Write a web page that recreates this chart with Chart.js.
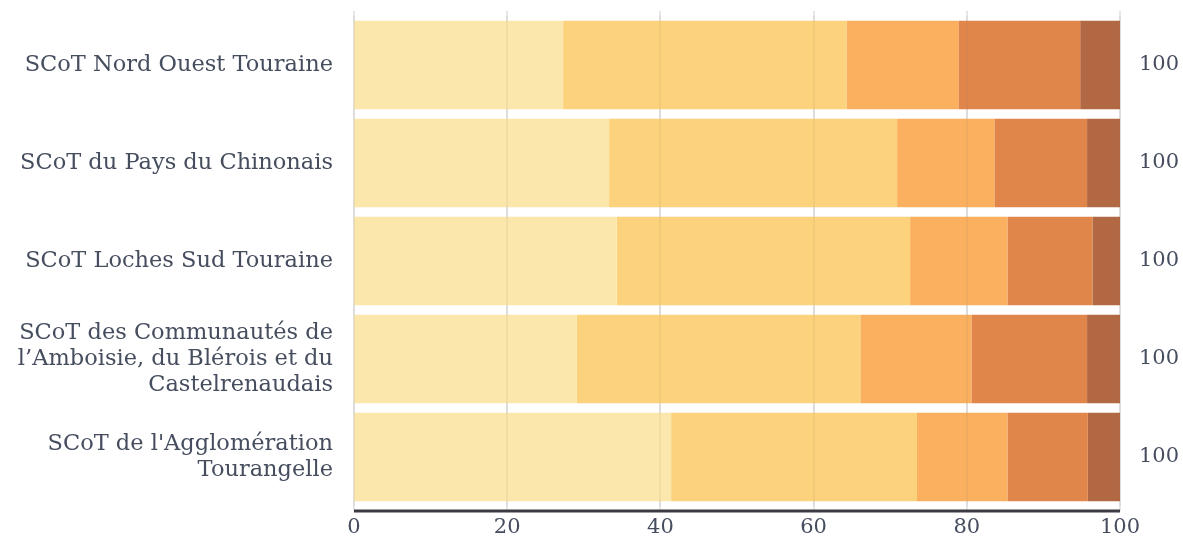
<!DOCTYPE html>
<html>
<head>
<meta charset="utf-8">
<script src="https://cdn.jsdelivr.net/npm/chart.js@4"></script>
<style>
  html, body { margin: 0; padding: 0; background: #ffffff; }
  #wrap { width: 1183px; height: 538px; position: relative; }
</style>
</head>
<body>
<div id="wrap"><canvas id="c" width="1183" height="538"></canvas></div>
<script>
const categories = [
  "SCoT Nord Ouest Touraine",
  "SCoT du Pays du Chinonais",
  "SCoT Loches Sud Touraine",
  ["SCoT des Communautés de", "l’Amboisie, du Blérois et du", "Castelrenaudais"],
  ["SCoT de l'Agglomération", "Tourangelle"]
];
const part1 = [27.3, 33.3, 34.3, 29.1, 41.4];
const part2 = [37.0, 37.6, 38.3, 37.0, 32.1];
const part3 = [14.6, 12.7, 12.7, 14.5, 11.8];
const part4 = [15.9, 12.1, 11.1, 15.1, 10.5];
const part5 = [5.2, 4.3, 3.6, 4.3, 4.2];
const xTicks = [0, 20, 40, 60, 80, 100];

const colors = ["#fbe7ab", "#fcd27d", "#fbb05f", "#e1864b", "#b26843"];
const series = [part1, part2, part3, part4, part5];

const FONT = "'DejaVu Serif', 'Liberation Serif', serif";
const TEXT = "#454d5e";

const gridPlugin = {
  id: "extGrid",
  beforeDatasetsDraw(chart) {
    const { ctx, chartArea, scales } = chart;
    ctx.save();
    ctx.strokeStyle = "#e6e6e6";
    ctx.lineWidth = 2;
    xTicks.forEach(v => {
      const x = Math.round(scales.x.getPixelForValue(v));
      ctx.beginPath();
      ctx.moveTo(x, chartArea.top - 5);
      ctx.lineTo(x, chartArea.bottom + 5);
      ctx.stroke();
    });
    ctx.restore();
  },
  afterDatasetsDraw(chart) {
    const { ctx, chartArea, scales } = chart;
    ctx.save();
    ctx.strokeStyle = "rgba(120,120,120,0.08)";
    ctx.lineWidth = 2;
    xTicks.forEach(v => {
      const x = Math.round(scales.x.getPixelForValue(v));
      ctx.beginPath();
      ctx.moveTo(x, chartArea.top);
      ctx.lineTo(x, chartArea.bottom);
      ctx.stroke();
    });
    // axis line
    ctx.strokeStyle = "#3c3d44";
    ctx.lineWidth = 3;
    ctx.beginPath();
    ctx.moveTo(scales.x.getPixelForValue(0), chartArea.bottom + 5);
    ctx.lineTo(scales.x.getPixelForValue(100), chartArea.bottom + 5);
    ctx.stroke();
    // totals
    ctx.fillStyle = TEXT;
    ctx.font = "21px " + FONT;
    ctx.textAlign = "left";
    ctx.textBaseline = "middle";
    const meta = chart.getDatasetMeta(chart.data.datasets.length - 1);
    categories.forEach((c, i) => {
      const total = Math.round(series.reduce((s, arr) => s + arr[i], 0));
      const y = meta.data[i].y;
      ctx.fillText(String(total), chartArea.right + 19, y);
    });
    ctx.restore();
  }
};

new Chart(document.getElementById("c"), {
  type: "bar",
  data: {
    labels: categories,
    datasets: series.map((arr, k) => ({
      label: "part" + (k + 1),
      data: arr,
      backgroundColor: colors[k],
      borderWidth: 0,
      barPercentage: 0.903,
      categoryPercentage: 1.0
    }))
  },
  options: {
    indexAxis: "y",
    responsive: false,
    animation: false,
    maintainAspectRatio: false,
    layout: { padding: { top: 16, right: 63, left: 0, bottom: 0 } },
    plugins: { legend: { display: false }, tooltip: { enabled: false } },
    scales: {
      x: {
        stacked: true,
        min: 0,
        max: 100,
        afterBuildTicks(scale) { scale.ticks = xTicks.map(v => ({ value: v })); },
        afterFit(scale) { scale.height = 32; scale.paddingLeft = 0; scale.paddingRight = 0; },
        grid: { display: false, drawTicks: false },
        border: { display: false },
        ticks: { color: TEXT, font: { family: FONT, size: 21 }, padding: 9, maxRotation: 0 }
      },
      y: {
        stacked: true,
        afterFit(scale) { scale.width = 354; scale.paddingTop = 0; scale.paddingBottom = 0; },
        grid: { display: false, drawTicks: false },
        border: { display: false },
        ticks: { color: TEXT, font: { family: FONT, size: 22.5, lineHeight: 1.15 }, padding: 21 }
      }
    }
  },
  plugins: [gridPlugin]
});
</script>
</body>
</html>
